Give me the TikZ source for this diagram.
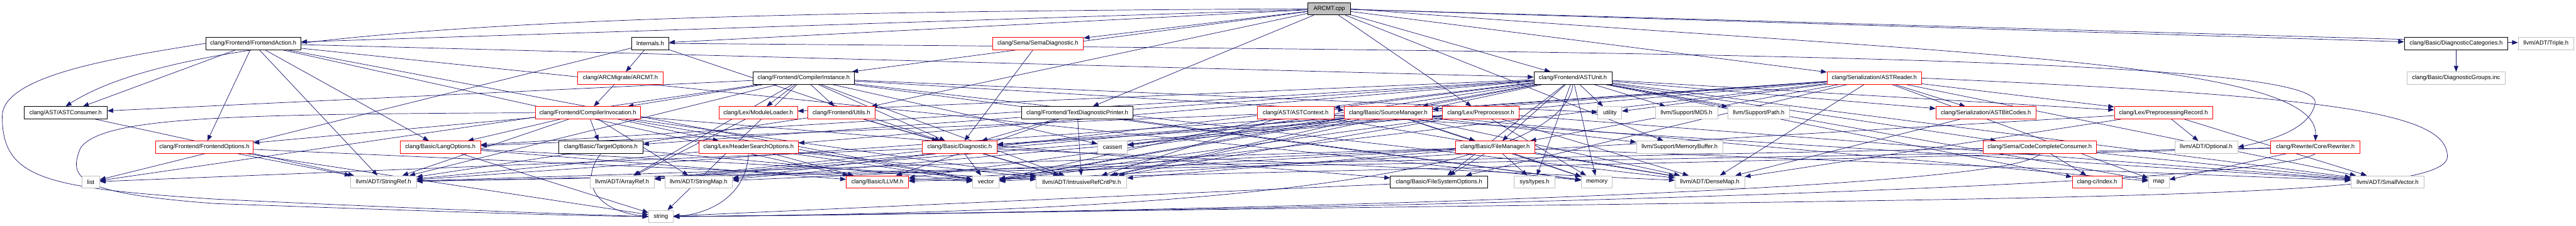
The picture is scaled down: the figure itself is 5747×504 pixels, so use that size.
\documentclass[tikz,border=0pt]{standalone}
\usepackage{fontspec}
\setmainfont{Liberation Sans}
\usetikzlibrary{arrows.meta}
\definecolor{edgec}{HTML}{191970}
\definecolor{redb}{HTML}{FF0000}
\definecolor{grayb}{HTML}{BFBFBF}
\definecolor{rootfill}{HTML}{BFBFBF}
\pgfdeclarelayer{bg}
\pgfsetlayers{bg,main}
\newcommand\nd[6]{\node[#2, minimum width=#4pt-#3pt] (#1) at ({(#3+#4)/2},#5) {#6};}
\begin{document}
\begin{tikzpicture}[x=1pt,y=-1pt,
  nbox/.style={rectangle, inner sep=0pt, minimum height=27.5pt, line width=1.1pt, fill=white,
    font=\fontsize{13.2}{15}\selectfont, text=black},
  blk/.style={nbox, draw=black},
  rdb/.style={nbox, draw=redb},
  gry/.style={nbox, draw=grayb},
  rootn/.style={nbox, draw=black, fill=rootfill},
  edg/.style={draw=edgec, line width=1pt, -{Triangle[length=13pt,width=10pt]}}]
\useasboundingbox (0,0) rectangle (5747,504);
% row 0
\nd{cpp}{rootn}{2918}{3013}{19.6}{ARCMT.cpp}
% row 1
\nd{fa}{blk}{459}{671}{97}{clang/Frontend/FrontendAction.h}
\nd{intl}{blk}{1409}{1492}{97}{Internals.h}
\nd{semad}{rdb}{2214}{2417}{97}{clang/Sema/SemaDiagnostic.h}
\nd{dcat}{blk}{5364}{5595}{97}{clang/Basic/DiagnosticCategories.h}
\nd{triple}{gry}{5618}{5742}{97}{llvm/ADT/Triple.h}
% row 2
\nd{arcmth}{rdb}{1288}{1480}{174.5}{clang/ARCMigrate/ARCMT.h}
\nd{ci}{blk}{1680}{1906}{174.5}{clang/Frontend/CompilerInstance.h}
\nd{astunit}{blk}{3422}{3596}{174.5}{clang/Frontend/ASTUnit.h}
\nd{astreader}{rdb}{4076}{4287}{174.5}{clang/Serialization/ASTReader.h}
\nd{dgroups}{gry}{5370}{5589}{174.5}{clang/Basic/DiagnosticGroups.inc}
% row 3
\nd{astcons}{blk}{54}{239}{252}{clang/AST/ASTConsumer.h}
\nd{cinv}{rdb}{1194}{1429}{252}{clang/Frontend/CompilerInvocation.h}
\nd{modload}{rdb}{1604}{1779}{252}{clang/Lex/ModuleLoader.h}
\nd{utils}{rdb}{1802}{1952}{252}{clang/Frontend/Utils.h}
\nd{tdp}{blk}{2279}{2528}{252}{clang/Frontend/TextDiagnosticPrinter.h}
\nd{astctx}{rdb}{2805}{2976}{252}{clang/AST/ASTContext.h}
\nd{srcmgr}{rdb}{2999}{3195}{252}{clang/Basic/SourceManager.h}
\nd{pp}{rdb}{3218}{3389}{252}{clang/Lex/Preprocessor.h}
\nd{utility}{gry}{3565}{3618}{252}{utility}
\nd{md5}{gry}{3693}{3832}{252}{llvm/Support/MD5.h}
\nd{path}{gry}{3855}{3992}{252}{llvm/Support/Path.h}
\nd{bitcodes}{rdb}{4319}{4542}{252}{clang/Serialization/ASTBitCodes.h}
\nd{pprec}{rdb}{4717}{4936}{252}{clang/Lex/PreprocessingRecord.h}
% row 4
\nd{feopts}{rdb}{347}{565}{329}{clang/Frontend/FrontendOptions.h}
\nd{langopts}{rdb}{893}{1072}{329}{clang/Basic/LangOptions.h}
\nd{tgtopts}{blk}{1247}{1434}{329}{clang/Basic/TargetOptions.h}
\nd{hsopts}{rdb}{1559}{1781}{329}{clang/Lex/HeaderSearchOptions.h}
\nd{diag}{rdb}{2058}{2224}{329}{clang/Basic/Diagnostic.h}
\nd{cassert}{gry}{2449}{2515}{329}{cassert}
\nd{filemgr}{rdb}{3247}{3424}{329}{clang/Basic/FileManager.h}
\nd{membuf}{gry}{3651}{3843}{329}{llvm/Support/MemoryBuffer.h}
\nd{ccc}{rdb}{4424}{4677}{329}{clang/Sema/CodeCompleteConsumer.h}
\nd{optional}{gry}{4852}{4992}{329}{llvm/ADT/Optional.h}
\nd{rewriter}{rdb}{5066}{5265}{329}{clang/Rewrite/Core/Rewriter.h}
% row 5
\nd{list}{gry}{183}{222}{406.5}{list}
\nd{strref}{gry}{782}{929}{406.5}{llvm/ADT/StringRef.h}
\nd{arrref}{gry}{1316}{1460}{406.5}{llvm/ADT/ArrayRef.h}
\nd{strmap}{gry}{1483}{1634}{406.5}{llvm/ADT/StringMap.h}
\nd{llvmh}{rdb}{1888}{2027}{406.5}{clang/Basic/LLVM.h}
\nd{vector}{gry}{2170}{2229}{406.5}{vector}
\nd{irc}{gry}{2312}{2514}{406.5}{llvm/ADT/IntrusiveRefCntPtr.h}
\nd{fsopts}{blk}{3102}{3319}{406.5}{clang/Basic/FileSystemOptions.h}
\nd{systypes}{gry}{3378}{3469}{406.5}{sys/types.h}
\nd{memory}{gry}{3528}{3597}{406.5}{memory}
\nd{densemap}{gry}{3737}{3892}{406.5}{llvm/ADT/DenseMap.h}
\nd{index}{rdb}{4623}{4734}{406.5}{clang-c/Index.h}
\nd{map}{gry}{4793}{4839}{406.5}{map}
\nd{smallvec}{gry}{5245}{5408}{406.5}{llvm/ADT/SmallVector.h}
% row 6
\nd{string}{gry}{1447}{1502}{484}{string}

\begin{pgfonlayer}{bg}
\foreach \s/\t in {
 cpp/intl, cpp/dcat, cpp/astunit, cpp/ci, cpp/fa, cpp/tdp, cpp/utils, cpp/pp, cpp/semad, cpp/astreader, cpp/triple, cpp/membuf,
 intl/arcmth, intl/diag, intl/list,
 fa/astcons, fa/llvmh, fa/langopts, fa/astunit, fa/feopts, fa/strref, fa/memory, fa/vector,
 ci/astcons, ci/diag, ci/srcmgr, ci/cinv, ci/utils, ci/modload, ci/arrref, ci/densemap, ci/irc, ci/strref, ci/cassert, ci/list, ci/memory, ci/utility, ci/string,
 astunit/index, astunit/astctx, astunit/filemgr, astunit/fsopts, astunit/langopts, astunit/srcmgr, astunit/tgtopts, astunit/hsopts, astunit/modload, astunit/pprec, astunit/ccc, astunit/bitcodes, astunit/irc, astunit/smallvec, astunit/strmap, astunit/md5, astunit/path, astunit/cassert, astunit/map, astunit/memory, astunit/systypes, astunit/utility, astunit/vector,
 tdp/diag, tdp/llvmh, tdp/irc, tdp/memory,
 semad/diag, dcat/dgroups, astcons/strref, arcmth/cinv, fsopts/string, tgtopts/vector,
 cinv/langopts, cinv/tgtopts, cinv/feopts, cinv/hsopts, cinv/fsopts, cinv/irc, cinv/strmap, cinv/strref, cinv/vector,
 modload/arrref,
 utils/diag, utils/irc, utils/strref,
 diag/list, diag/arrref, diag/densemap, diag/irc, diag/vector,
 langopts/llvmh, langopts/irc, langopts/string,
 feopts/strref, feopts/string, feopts/vector,
 hsopts/llvmh, hsopts/irc, hsopts/strref, hsopts/vector,
 astctx/langopts, astctx/densemap, astctx/irc, astctx/smallvec, astctx/vector,
 srcmgr/filemgr, srcmgr/llvmh, srcmgr/arrref, srcmgr/densemap, srcmgr/irc, srcmgr/membuf, srcmgr/cassert, srcmgr/map, srcmgr/memory, srcmgr/vector,
 pp/diag, pp/arrref, pp/densemap, pp/irc, pp/smallvec, pp/memory, pp/vector,
 filemgr/fsopts, filemgr/llvmh, filemgr/densemap, filemgr/irc, filemgr/smallvec, filemgr/strmap, filemgr/strref, filemgr/memory, filemgr/systypes,
 bitcodes/densemap,
 pprec/densemap, pprec/optional, pprec/smallvec, pprec/vector,
 astreader/diag, astreader/filemgr, astreader/fsopts, astreader/srcmgr, astreader/pprec, astreader/bitcodes, astreader/smallvec, astreader/strmap, astreader/strref, astreader/map, astreader/utility, astreader/vector, astreader/densemap,
 ccc/index, ccc/smallvec, ccc/strref,
 rewriter/llvmh, rewriter/strref, rewriter/map}
 {\draw[edg] (\s) -- (\t);}
% curved routes
\draw[edg] (cpp.west) .. controls (1300,28) and (420,60) .. (astcons.north);
\draw[edg] (cpp.east) .. controls (4300,120) and (5175,130) .. (rewriter.north);
\draw[edg] (intl.east) .. controls (3800,115) and (5180,130) .. (5165,230) .. controls (5155,290) and (5060,315) .. (optional.east);
\draw[edg] (fa.west) .. controls (250,130) and (5,170) .. (5,260) .. controls (5,400) and (100,420) .. (480,445) .. controls (900,465) and (1250,478) .. (string.west);
\draw[edg] (cinv.west) .. controls (500,255) and (230,262) .. (180,330) .. controls (150,400) and (175,432) .. (480,455) .. controls (900,470) and (1250,482) .. (string.west);
\draw[edg] (tgtopts.south) .. controls (1295,400) and (1320,470) .. (string.west);
\draw[edg] (hsopts.south) .. controls (1665,440) and (1580,478) .. (string.east);
\draw[edg] (astunit.south) .. controls (3480,440) and (2300,478) .. (string.east);
\draw[edg] (ccc.south) .. controls (4500,430) and (2600,475) .. (string.east);
\draw[edg] (rewriter.south) .. controls (5050,420) and (3000,470) .. (string.east);
\draw[edg] (astreader.east) .. controls (5200,215) and (5460,250) .. (5460,350) .. controls (5460,430) and (4900,440) .. (3500,458) .. controls (2500,470) and (1800,482) .. (string.east);
\end{pgfonlayer}
\end{tikzpicture}
\end{document}
